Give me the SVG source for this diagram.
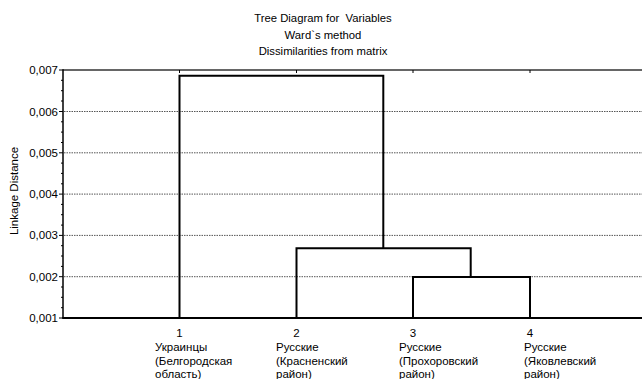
<svg xmlns="http://www.w3.org/2000/svg" width="642" height="379" viewBox="0 0 642 379">
<style>
text{font-family:"Liberation Sans",Arial,sans-serif;font-size:11.5px;fill:#000}
.t{text-anchor:middle;font-size:11.3px}
.yl{text-anchor:end}
.grid{stroke:#555;stroke-width:1;stroke-dasharray:1.5 1}
.tick{stroke:#000;stroke-width:1}
.link{fill:none;stroke:#000;stroke-width:2}
</style>
<rect width="642" height="379" fill="#fff"/>
<g id="title">
<text class="t" x="323" y="22" xml:space="preserve">Tree Diagram for&#160; Variables</text>
<text class="t" x="323" y="39">Ward`s method</text>
<text class="t" x="323" y="55">Dissimilarities from matrix</text>
</g>
<g id="grid">
<line class="grid" x1="64" y1="111.5" x2="642" y2="111.5"/>
<line class="grid" x1="64" y1="152.8" x2="642" y2="152.8"/>
<line class="grid" x1="64" y1="194.1" x2="642" y2="194.1"/>
<line class="grid" x1="64" y1="235.4" x2="642" y2="235.4"/>
<line class="grid" x1="64" y1="276.7" x2="642" y2="276.7"/>
</g>
<g id="axes">
<line x1="63" y1="70" x2="642" y2="70" stroke="#333" stroke-width="1.5"/>
<line x1="63" y1="69.3" x2="63" y2="318.5" stroke="#000" stroke-width="1.5"/>
<line x1="62.3" y1="318" x2="642" y2="318" stroke="#000" stroke-width="2"/>
<g class="tick">
<line x1="59" y1="70" x2="63" y2="70"/><line x1="61" y1="80.3" x2="63" y2="80.3"/><line x1="61" y1="90.7" x2="63" y2="90.7"/><line x1="61" y1="101" x2="63" y2="101"/>
<line x1="59" y1="111.5" x2="63" y2="111.5"/><line x1="61" y1="121.8" x2="63" y2="121.8"/><line x1="61" y1="132.1" x2="63" y2="132.1"/><line x1="61" y1="142.5" x2="63" y2="142.5"/>
<line x1="59" y1="152.8" x2="63" y2="152.8"/><line x1="61" y1="163.1" x2="63" y2="163.1"/><line x1="61" y1="173.4" x2="63" y2="173.4"/><line x1="61" y1="183.8" x2="63" y2="183.8"/>
<line x1="59" y1="194.1" x2="63" y2="194.1"/><line x1="61" y1="204.4" x2="63" y2="204.4"/><line x1="61" y1="214.7" x2="63" y2="214.7"/><line x1="61" y1="225.1" x2="63" y2="225.1"/>
<line x1="59" y1="235.4" x2="63" y2="235.4"/><line x1="61" y1="245.7" x2="63" y2="245.7"/><line x1="61" y1="256" x2="63" y2="256"/><line x1="61" y1="266.4" x2="63" y2="266.4"/>
<line x1="59" y1="276.7" x2="63" y2="276.7"/><line x1="61" y1="287" x2="63" y2="287"/><line x1="61" y1="297.3" x2="63" y2="297.3"/><line x1="61" y1="307.7" x2="63" y2="307.7"/>
<line x1="59" y1="318" x2="63" y2="318"/>
<line x1="179.5" y1="70" x2="179.5" y2="73"/><line x1="296.5" y1="70" x2="296.5" y2="73"/><line x1="413" y1="70" x2="413" y2="73"/><line x1="530" y1="70" x2="530" y2="73"/>
</g>
<text class="yl" x="58" y="74">0,007</text>
<text class="yl" x="58" y="115.5">0,006</text>
<text class="yl" x="58" y="156.8">0,005</text>
<text class="yl" x="58" y="198.1">0,004</text>
<text class="yl" x="58" y="239.4">0,003</text>
<text class="yl" x="58" y="280.7">0,002</text>
<text class="yl" x="58" y="322">0,001</text>
<text x="0" y="0" text-anchor="middle" font-size="12" transform="translate(18,191) rotate(-90)">Linkage Distance</text>
</g>
<g id="connectors">
<polyline class="link" points="179.5,318 179.5,75.7 383.3,75.7 383.3,248.3"/>
<polyline class="link" points="296.5,318 296.5,248.3 470.7,248.3 470.7,277"/>
<polyline class="link" points="413,318 413,277 530,277 530,318"/>
</g>
<g id="leaf1">
<text x="179.5" y="337" text-anchor="middle">1</text>
<text x="155" y="351">Украинцы</text>
<text x="155" y="364.5">(Белгородская</text>
<text x="155" y="378">область)</text>
</g>
<g id="leaf2">
<text x="296.5" y="337" text-anchor="middle">2</text>
<text x="276" y="351">Русские</text>
<text x="276" y="364.5">(Красненский</text>
<text x="276" y="378">район)</text>
</g>
<g id="leaf3">
<text x="413" y="337" text-anchor="middle">3</text>
<text x="399" y="351">Русские</text>
<text x="399" y="364.5">(Прохоровский</text>
<text x="399" y="378">район)</text>
</g>
<g id="leaf4">
<text x="530" y="337" text-anchor="middle">4</text>
<text x="524" y="351">Русские</text>
<text x="524" y="364.5">(Яковлевский</text>
<text x="524" y="378">район)</text>
</g>
</svg>
